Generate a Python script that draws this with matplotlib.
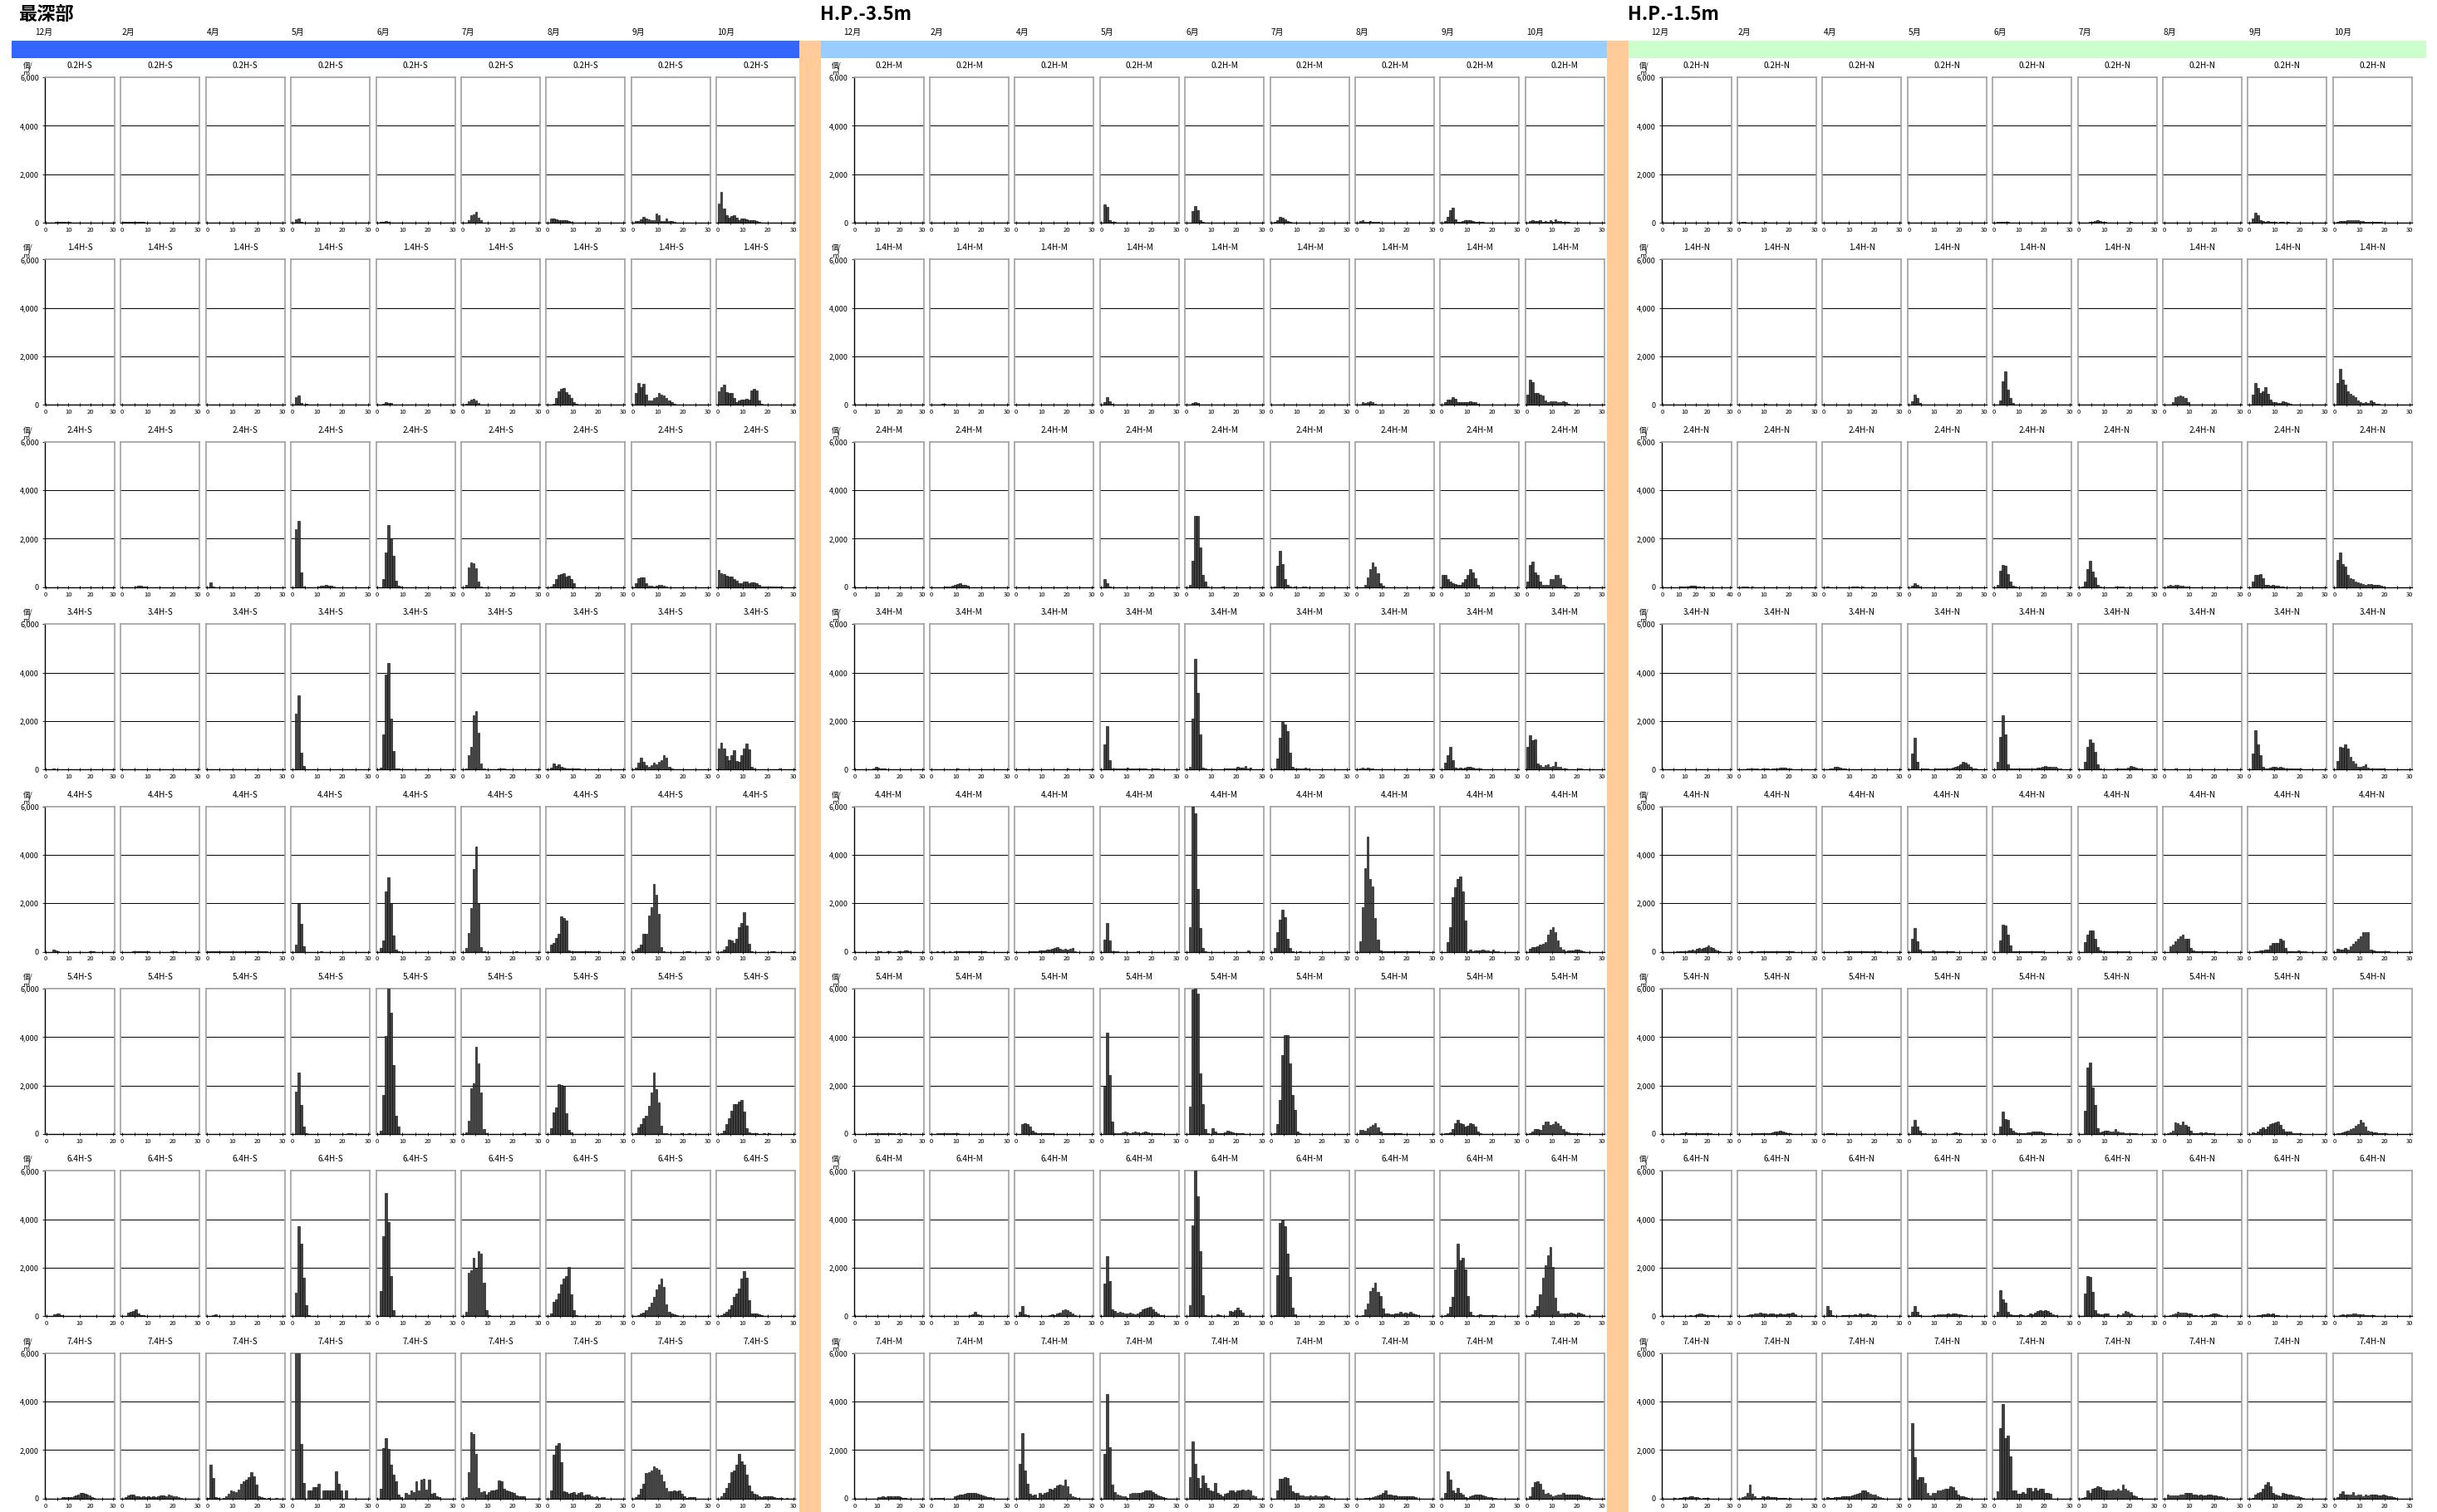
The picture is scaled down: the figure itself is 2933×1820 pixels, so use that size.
import numpy as np
import matplotlib
matplotlib.use('Agg')
import matplotlib.pyplot as plt
from matplotlib.patches import Rectangle

plt.rcParams['font.family'] = ['Noto Sans CJK JP', 'DejaVu Sans']

# values in hundreds of 個/㎡, one list per 1-size bin starting at 0
MONTHS = ['12月', '2月', '4月', '5月', '6月', '7月', '8月', '9月', '10月']
DEPTHS = ['0.2H', '1.4H', '2.4H', '3.4H', '4.4H', '5.4H', '6.4H', '7.4H']
TITLES = ['最深部', 'H.P.-3.5m', 'H.P.-1.5m']
SUFFIX = ['S', 'M', 'N']

S_02 = [
    [0, 0, 0, 0, 0.2, 0.4, 0.4, 0.3, 0.3, 0.2, 0.2],
    [0.2, 0.3, 0.3, 0.4, 0.5, 0.4, 0.2, 0.4, 0.2],
    [],
    [0, 1.5, 1.8, 0.4],
    [0, 0.3, 0.5, 0.8, 0.4],
    [0, 0, 1.0, 3.2, 3.6, 4.3, 2.0, 1.0],
    [0, 1.8, 1.8, 1.5, 1.2, 1.0, 1.0, 1.0, 0.8, 0.2],
    [0, 0.8, 0.8, 1.4, 2.5, 1.8, 1.4, 1.0, 1.2, 3.8, 3.1, 0.8, 0.8, 1.8, 0.8, 0.8, 0.3],
    [7.8, 12.6, 5.8, 3.2, 2.0, 2.8, 3.2, 2.0, 1.2, 1.8, 1.8, 1.4, 1.2, 1.0, 1.2, 0.6, 0.3],
]
S_14 = [
    [0, 0, 0, 0.2, 0.3, 0.2],
    [],
    [0, 0, 0, 0, 0, 0, 0, 0, 0, 0, 0, 0, 0, 0, 0.2, 0.2],
    [0, 3.2, 3.8, 0.8, 0.2, 0.5, 0, 0, 0, 0, 0, 0, 0, 0.3, 0, 0, 0.3],
    [0, 0.3, 0.6, 1.2, 0.8, 0.7, 0.3],
    [0, 0.5, 1.4, 2.2, 2.5, 2.0, 0.8, 0.3, 0.2],
    [0, 0, 0.5, 3.0, 5.5, 6.8, 7.0, 5.2, 4.2, 2.8, 1.2, 0.4, 0, 0, 0, 0, 0, 0, 0, 0.2],
    [0, 4.8, 9.0, 7.2, 8.6, 4.2, 1.8, 2.0, 2.8, 3.2, 4.8, 4.2, 3.8, 2.8, 2.0, 1.0, 0.4],
    [5.5, 7.2, 8.5, 5.2, 4.8, 5.0, 2.8, 1.2, 1.8, 2.2, 2.2, 2.4, 2.2, 6.0, 6.8, 5.8, 2.0, 0.5,
     0, 0, 0, 0, 0, 0, 0, 0.3],
]
S_24 = [
    [0, 0, 0, 0, 0.1, 0.1],
    [0, 0, 0, 0, 0, 0.3, 0.5, 0.5, 0.3, 0.4],
    [0, 2.0, 0.3],
    [0, 24, 27.5, 6, 0.3, 0, 0, 0, 0, 0, 0.3, 0.5, 0.5, 0.8, 0.6, 0.5, 0.3],
    [0, 0, 3.2, 14.5, 25.8, 20, 13, 2.6, 0.5, 0.2],
    [0, 1.0, 8.0, 10.2, 9.8, 7.8, 2.5, 0.4],
    [0, 0.3, 1.2, 3.5, 5.0, 5.5, 5.8, 4.5, 4.8, 3.5, 1.5],
    [0, 1.5, 3.8, 3.9, 3.9, 1.6, 0.5, 0.5, 0.4, 0.6, 0.9, 0.8, 0.6, 0.4],
    [7.0, 5.8, 5.5, 4.8, 4.5, 4.5, 3.2, 2.8, 1.8, 1.8, 2.2, 2.2, 1.8, 2.0, 2.0, 1.8, 0.8,
     0.3, 0.3, 0.3, 0.3, 0.3, 0.3, 0.3, 0.3, 0.3],
]
S_34 = [
    [0, 0, 0, 0.3, 0.2],
    [0, 0, 0, 0, 0, 0, 0, 0.2, 0.2, 0, 0.2, 0, 0, 0, 0, 0, 0, 0, 0, 0.2, 0.2],
    [0, 0, 0, 0, 0, 0, 0, 0, 0, 0, 0, 0, 0, 0.2, 0.2, 0.2, 0.2],
    [0, 23, 30.5, 6.8, 1.5, 0.2, 0, 0, 0, 0, 0.2],
    [0, 0.8, 14.5, 39, 44, 21, 7.5, 0.5, 0.3, 0, 0, 0.2, 0.2, 0, 0, 0, 0, 0, 0, 0, 0.2, 0, 0, 0.2],
    [0, 0.5, 5.8, 9.2, 22.5, 24, 15, 2.5, 0.5, 0, 0, 0, 0, 0, 0.3, 0.5, 0.3],
    [0, 0.8, 2.5, 1.5, 2.2, 1.2, 0.8, 0.5, 0.5, 0.3, 0.3, 0.3, 0.3, 0.2, 0, 0, 0.2],
    [0, 0.8, 2.8, 4.8, 3.2, 1.8, 1.2, 1.8, 2.8, 2.0, 3.2, 4.0, 5.8, 5.0, 1.2, 0.3],
    [8.5, 11.2, 8.5, 5.5, 3.8, 5.8, 7.8, 3.5, 3.2, 5.8, 8.5, 10.8, 8.2, 1.2, 0.3,
     0, 0, 0, 0, 0, 0, 0, 0, 0, 0.3],
]
S_44 = [
    [0, 0, 0, 1.0, 0.5, 0.2, 0, 0, 0, 0, 0, 0, 0, 0, 0, 0, 0, 0, 0, 0.2, 0.3, 0.2],
    [0, 0, 0, 0, 0.2, 0.2, 0.3, 0.2, 0.2, 0.2, 0.2, 0, 0, 0, 0, 0, 0, 0, 0, 0.2, 0.2, 0.2],
    [0.1, 0.2, 0.2, 0.2, 0.2, 0.2, 0.2, 0.2, 0.2, 0.3, 0.2, 0.2, 0.2, 0.2, 0.2, 0.2, 0.2,
     0.2, 0.2, 0.2, 0.3, 0.2, 0.2, 0.2],
    [0, 2.8, 20.2, 11.5, 2.4, 0, 0, 0, 0, 0, 0, 0.2],
    [0, 1.5, 4.8, 24.8, 30.8, 20, 6.8, 1.0, 0.2],
    [0, 1.5, 7.8, 18, 34, 43.5, 20, 2.0, 0.2, 0, 0, 0, 0, 0, 0, 0, 0, 0, 0, 0, 0, 0.3],
    [0, 2.8, 3.8, 5.8, 7.5, 14.5, 14.0, 13.0, 0.5, 0.3, 0.3, 0.2, 0.3, 0.3, 0.2, 0.2, 0.2,
     0.2, 0.2, 0.2, 0.2],
    [0, 0.8, 1.5, 2.8, 7.5, 7.5, 15, 18.5, 28, 23.5, 15.5, 2.0, 0.3, 0, 0, 0, 0, 0, 0, 0,
     0, 0.2, 0.2],
    [0, 0.3, 0.8, 2.2, 5, 4.8, 3.5, 5.5, 10, 12, 16.2, 11, 3.2, 0.3, 0, 0, 0, 0, 0, 0, 0,
     0.2, 0.2],
]
S_54 = [
    [0, 0, 0, 0, 0, 0.1, 0, 0, 0, 0.1],
    [0, 0, 0, 0, 0, 0, 0, 0, 0, 0, 0, 0, 0, 0, 0, 0, 0, 0, 0, 0.1],
    [0, 0, 0, 0, 0, 0, 0, 0, 0, 0, 0.1],
    [0, 17.5, 25.5, 12, 3.2, 0.5, 0, 0, 0, 0, 0, 0, 0, 0, 0, 0, 0, 0, 0, 0, 0, 0, 0.2, 0.2],
    [0, 1.5, 16, 40.5, 61, 50, 28.5, 7.5, 3.2],
    [0, 0.8, 5.5, 19, 21, 36, 29, 17, 2.0, 0.3, 0, 0, 0, 0, 0, 0, 0, 0, 0, 0, 0, 0, 0, 0, 0.2],
    [0, 2.3, 8.8, 11, 20.5, 20.2, 20, 8.5, 1.8, 0.8],
    [0, 0.5, 2.8, 4, 6.5, 7.5, 11.5, 17, 25.5, 18.5, 13, 3.3, 0.5, 0.3, 0, 0, 0, 0, 0,
     0.2, 0, 0, 0.2],
    [0, 0.5, 1.5, 4, 6.5, 9.5, 12.5, 12.5, 13.5, 14, 9.2, 2.5, 0.8, 0.3, 0.2, 0.2, 0, 0,
     0.2, 0, 0.2],
]
S_64 = [
    [0, 0.3, 0.8, 1.0, 0.6, 0.3, 0, 0, 0.2, 0, 0, 0, 0, 0, 0, 0, 0, 0, 0.2, 0.2],
    [0, 0, 1.5, 1.8, 2.2, 2.8, 1.2, 0.6, 0.4, 0.3, 0.2, 0.2, 0, 0.2, 0, 0, 0, 0, 0, 0.3,
     0.2, 0.2],
    [0, 0, 0.5, 0.8, 0.2, 0, 0, 0, 0, 0, 0.2, 0, 0, 0, 0, 0, 0, 0, 0, 0.2, 0.2, 0.2],
    [0, 9.8, 37, 29.8, 16, 4.5, 0.5, 0.3, 0, 0, 0, 0, 0, 0, 0.2],
    [0, 10.5, 33, 51, 39, 16.5, 2.5, 0, 0, 0, 0, 0, 0, 0, 0, 0, 0, 0, 0, 0.3],
    [0, 2.0, 18, 19, 24, 20, 27, 26, 14, 2.5, 0.5],
    [0, 1.2, 6, 7, 9.5, 13, 15.5, 16.5, 20.5, 9, 2.5, 0.5, 0, 0, 0.2, 0, 0, 0, 0, 0.2],
    [0, 0.3, 0.5, 1.0, 1.5, 2.5, 4, 5.5, 8, 11, 13, 15.5, 12, 5, 2, 1.2, 0.8, 0.5, 0.3],
    [0, 0.5, 1.0, 2.0, 2.8, 4.5, 8, 9.5, 11.5, 15.5, 18.5, 16, 6.5, 1.0, 1.2, 1.2, 0.8,
     0.5, 0.3],
]
S_74 = [
    [0, 0, 0, 0, 0, 0, 0, 0.5, 0.5, 0.5, 0.5, 0.6, 0.8, 1.2, 1.8, 2.2, 2.5, 2.0, 1.8, 1.2,
     0.5, 0.3],
    [0, 0.5, 1.2, 1.5, 1.8, 1.0, 0.8, 0.6, 0.8, 0.7, 0.8, 0.5, 0.8, 0.6, 0.8, 1.2, 1.3, 0.8,
     1.5, 1.3, 1.0, 0.8, 0.5, 0.3],
    [0.3, 14, 8.5, 0.5, 0.3, 0, 0.3, 0.8, 2.0, 3.5, 3.0, 2.8, 3.8, 6, 7, 7.8, 9, 10.8, 9.3,
     5.8, 1.0, 0.6, 0.3, 0, 0.2, 0, 0, 0.2],
    [0, 70, 70, 22.5, 6.5, 0, 3.2, 3.2, 4.8, 4.8, 6.2, 0, 3.2, 3.2, 3.2, 3.2, 3.2, 11.2,
     6.2, 3.2, 0, 3.2],
    [0, 4.2, 21, 25, 20.5, 14, 9.8, 7.2, 1.5, 0.5, 0, 2.2, 1.8, 3.5, 2.8, 7, 3.5, 7.8, 8.2,
     3.8, 7.8, 2.0, 2.3, 1.0, 0.5],
    [0, 0.5, 11, 27.5, 26.8, 18.5, 4.4, 2.7, 2.9, 1.6, 2.8, 3.5, 3.5, 3.8, 7.4, 7.2, 3.9,
     3.5, 3.0, 2.8, 2.2, 1.4, 0.8, 0.8, 0.8],
    [0, 3.2, 18, 22, 23, 15, 3, 2.8, 2, 2.2, 2.8, 1.5, 2.2, 2.8, 1.2, 1.8, 1.5, 0.8, 0.5,
     1.0, 0.3, 0.5, 0.5],
    [0, 0.5, 1.5, 4, 6, 10.5, 11, 11.5, 13.2, 12.5, 12, 10, 7, 4.5, 3, 3, 3.5, 3, 3.5, 2, 1,
     0.3, 0.5, 0.5, 0.5],
    [0, 1.0, 2.5, 4.5, 6.5, 11, 11.5, 14, 18.5, 15.5, 14, 10, 5.5, 3, 2, 1.5, 0.8, 0.5, 0.8,
     0.8, 1.0, 1.0, 0.5, 0.3, 0.3, 0.3, 0, 0.3],
]

M_02 = [
    [], [], [],
    [0, 7.5, 6.5, 1.2, 0.3, 0.3],
    [0, 0, 4.8, 6.8, 5.2, 1.2, 0.3],
    [0, 0.5, 1.2, 2.5, 2.2, 1.5, 0.8, 0.3],
    [0, 0.8, 1.2, 0.5, 0.3, 0.8, 0.2, 0.3, 0.2],
    [0, 0.8, 2.5, 5.0, 6.2, 1.5, 0.5, 0.5, 0.8, 1.0, 1.2, 1.0, 0.8, 0.5, 0.3, 0.3, 0.3],
    [0, 0.8, 1.0, 0.8, 0.8, 1.0, 0.5, 0.6, 0.5, 1.0, 0.5, 1.5, 0.8, 0.8, 0.3, 0.3, 0.2],
]
M_14 = [
    [],
    [0, 0, 0, 0.3, 0.6, 0.4, 0.3, 0.2],
    [0, 0, 0, 0.2],
    [0, 1.0, 3.2, 1.5, 0.5, 0, 0, 0, 0, 0, 0, 0, 0, 0.2],
    [0, 0.3, 0.8, 1.0, 0.8, 0.3],
    [0, 0, 0, 0, 0.2],
    [0, 0, 1.0, 0.8, 1.0, 1.5, 1.0, 0.5, 0.3],
    [0, 1.0, 2.2, 2.2, 3.2, 2.5, 1.2, 1.0, 1.2, 1.0, 1.2, 1.5, 1.2, 1.0, 0.5, 0.3],
    [4.2, 10.5, 9.5, 4.8, 4.8, 4.2, 3.8, 1.8, 1.2, 1.5, 1.5, 1.5, 1.2, 1.2, 1.5, 1.0, 0.5],
]
M_24 = [
    [],
    [0, 0, 0, 0, 0, 0.2, 0.3, 0.4, 0.5, 0.8, 1.2, 1.5, 1.0, 0.8, 0.5],
    [0, 0, 0.1],
    [0, 3.2, 1.5, 0.3],
    [0, 1.0, 11, 29.5, 29.5, 16.5, 5.0, 2.2, 0.3, 0, 0, 0, 0, 0, 0.3],
    [0, 0.3, 9, 15, 9.5, 3.2, 0.8, 0.2, 0, 0.3, 0, 0, 0.3, 0.3],
    [0, 0, 0, 1.0, 4.0, 7.5, 10.2, 8.5, 5.8, 1.5, 0.5],
    [5.2, 5.2, 3.5, 2.5, 1.8, 1.2, 0.8, 1.0, 2.0, 3.5, 5.2, 7.5, 6.0, 3.8, 1.0],
    [2.2, 9.2, 10.5, 6.2, 5.0, 2.5, 1.0, 0.8, 0.8, 3.2, 3.5, 5.2, 5.0, 3.8, 1.0, 0.2],
]
M_34 = [
    [0, 0, 0, 0, 0, 0, 0, 0, 0.5, 1.2, 0.8, 0.5, 0.3, 0.3],
    [0, 0, 0.2, 0.2, 0.2, 0.2, 0.2, 0.2, 0.2, 0.2, 0.3, 0.2, 0.2, 0.2, 0.2, 0.2, 0.2, 0,
     0.2, 0, 0, 0, 0, 0.2],
    [0, 0, 0, 0, 0, 0, 0, 0, 0, 0.2, 0.2, 0.2, 0.2, 0.2, 0.2, 0.2, 0.2, 0.2, 0.2, 0.2, 0.3,
     0.2, 0.2],
    [0, 10.5, 18, 4, 0.5, 0.3, 0.3, 0.5, 0.3, 0.5, 0.8, 0.5, 0.3, 0.3, 0.3, 0.3, 0.3, 0.3,
     0.2, 0.2, 0.3, 0.3, 0.3],
    [0, 1.0, 21, 45.5, 31.5, 14.5, 0.8, 0.3, 0, 0, 0, 0, 0, 0, 0, 0.3, 0.3, 0.3, 0.3, 0.5,
     1.0, 0.8, 0.8, 1.5, 0.3, 0.8],
    [0, 0.5, 4.5, 13, 19.5, 18.5, 15.8, 7.0, 1.2, 0.3, 0.3, 0.3, 0.3, 0.8, 0.3, 0.2],
    [0, 0.5, 0.8, 0.5, 0.8, 0.3, 0.5, 0.2],
    [0, 2.8, 5.8, 9.2, 4.0, 0.8, 0.5, 0.8, 0.5, 0.8, 1.0, 1.0, 0.8, 0.5, 0.5, 0.3],
    [9.2, 14, 12.2, 12.5, 2.5, 1.8, 1.2, 1.8, 2.2, 1.2, 1.5, 3.2, 1.2, 1.0, 0.5, 0.3, 0, 0,
     0, 0, 0.3, 0.3, 0.2],
]
M_44 = [
    [0, 0, 0, 0, 0, 0, 0, 0, 0, 0, 0.2, 0.2, 0, 0, 0.2, 0.2, 0, 0, 0, 0.2, 0.2, 0.3, 0.5,
     0.4, 0.2],
    [0, 0, 0.2, 0, 0.2, 0, 0, 0.2, 0, 0.2, 0.2, 0.2, 0.2, 0.2, 0.2, 0.2, 0.2, 0.2, 0.2, 0.2,
     0.2, 0.2],
    [0, 0, 0, 0, 0, 0.2, 0.2, 0.3, 0.3, 0.4, 0.5, 0.6, 0.8, 0.8, 1.2, 1.5, 1.8, 1.2, 1.0,
     1.2, 1.0, 1.2, 1.5, 0.3],
    [0, 5, 12, 4.5, 0.3, 0.2, 0.2, 0, 0, 0, 0, 0, 0, 0, 0.2],
    [0, 10.2, 60, 57, 25.8, 9.8, 1.5, 0.3, 0, 0, 0, 0, 0, 0, 0, 0, 0, 0, 0, 0, 0, 0, 0,
     0, 0.5],
    [0, 1.5, 8.2, 13.2, 17.2, 14.2, 5.2, 1.5, 0.3, 0, 0, 0.2],
    [0, 4.2, 18.5, 34.5, 47.5, 30, 26.8, 13.8, 5.0, 0.5, 0.3, 0.3, 0.2, 0.2, 0.2, 0.2, 0.2,
     0.2, 0.2, 0.2, 0.2, 0.2, 0.2, 0.2, 0.3],
    [0, 0, 4.0, 10, 22.5, 26.5, 30, 31, 25, 13, 0.3, 1.0, 0.3, 0.5, 0.5, 0.5, 0.8, 0.5,
     0.5, 0.3, 0.8, 0.3, 0.3],
    [0, 1.2, 1.8, 1.8, 2.2, 2.8, 3.2, 4.0, 7.0, 9.0, 10.2, 8, 4.5, 2.0, 1.0, 0.3, 0.5, 0.5,
     0.5, 0.8, 0.8, 0.5, 0.3],
]
M_54 = [
    [0, 0, 0, 0, 0, 0, 0.2, 0.3, 0.3, 0.3, 0.3, 0.2, 0.2, 0.2, 0.2, 0.2, 0.3, 0.2, 0, 0.2,
     0, 0.2, 0.2],
    [0, 0, 0.3, 0.3, 0.4, 0.4, 0.3, 0.3, 0.2, 0.2, 0.2],
    [0, 0, 4.2, 4.5, 4.0, 3.2, 1.5, 0.8, 0.5, 0.5, 0.3, 0.3, 0.3, 0.2, 0.3],
    [0, 19.5, 42, 24.2, 5.2, 0.3, 0.3, 0.5, 0.8, 1.0, 0.8, 0.5, 0.8, 1.0, 0.8, 0.5, 0.8,
     1.0, 0.8, 0.5, 0.5, 0.3, 0.2, 0.3],
    [0, 11.2, 59.5, 61, 58, 25.2, 12.5, 2.0, 0.3, 0, 2.5, 1.2, 0.3, 0.5, 0.5, 0.8, 1.5,
     1.2, 0.8, 0.5, 0.3, 0.5, 0.2],
    [0, 0.5, 4.0, 14.2, 32.5, 40.8, 40.8, 29, 16.2, 9.8, 1.2, 0.2],
    [0, 1.8, 1.8, 1.5, 2.5, 3.2, 3.8, 4.5, 2.8, 1.0, 0.5, 0.5, 0.3, 0.3, 0.5, 0.3, 0.3, 0.2],
    [0, 0.3, 0.5, 0.8, 2.2, 4.5, 5.8, 4.5, 4.0, 3.2, 3.5, 4.5, 4.0, 3.2, 1.0, 0.2],
    [0, 0.5, 1.0, 2.2, 2.2, 1.8, 3.8, 5.2, 5.2, 3.8, 4.2, 5.2, 4.5, 3.5, 2.2, 1.0, 0.8, 0.5,
     0.5, 0.3, 0.5, 0.3],
]
M_64 = [
    [0, 0, 0, 0, 0, 0, 0, 0.2, 0.2, 0.2, 0.2, 0.2, 0.2, 0.2, 0.3, 0.2, 0.3, 0.3, 0.2, 0.2,
     0.2, 0.2],
    [0, 0, 0, 0, 0, 0, 0, 0, 0, 0, 0, 0.2, 0.2, 0.3, 0.2, 0.5, 0.8, 1.8, 0.8, 0.5, 0.3],
    [0, 1.8, 4.2, 0.8, 0.5, 0.3, 0.3, 0.3, 0.3, 0.3, 0.2, 0.3, 0.3, 0.5, 0.8, 0.5, 1.0,
     1.5, 2.5, 2.8, 2.5, 1.8, 1.0, 0.5, 0.3],
    [0, 13.5, 24.8, 14.5, 3.0, 2.2, 1.5, 1.8, 1.5, 1.2, 1.0, 1.5, 1.2, 0.8, 1.2, 2.0, 2.8,
     3.2, 3.5, 3.8, 2.8, 2.0, 1.0, 0.5, 0.5, 0.3],
    [0, 4.5, 37.5, 60.8, 49.5, 27, 8.8, 0.5, 0, 0.3, 0.2, 0.3, 0.8, 0.5, 0.3, 0.3, 0, 2.2,
     1.8, 2.5, 3.5, 2.5, 1.5, 0.2],
    [0, 0.5, 17, 38.5, 40, 37.2, 25.8, 16.2, 3.5, 0.8, 0.3, 0.3, 0.3, 0, 0.3, 0, 0, 0.3, 0.3],
    [0, 0.3, 0.5, 2.8, 5.2, 10.5, 11.8, 13.8, 10.2, 8.2, 3.2, 1.0, 1.2, 0.8, 0.8, 1.2, 1.0,
     1.8, 1.2, 1.5, 1.2, 1.8, 1.2, 0.8, 0.5, 0.3],
    [0, 0.5, 1.0, 4.0, 8.0, 19.5, 29.8, 23.2, 24, 19.5, 8.2, 1.8, 0.5, 0.3, 0.5, 0.8, 0.5,
     0.5, 0.5, 0.5, 0.5, 0.5, 0.3],
    [0, 0.3, 0.8, 2.5, 4.2, 9.2, 15.8, 21.2, 25.2, 28.5, 20.2, 7.8, 2.2, 1.2, 1.2, 1.0, 1.0,
     1.5, 1.2, 0.8, 1.5, 1.0, 0.8],
]
M_74 = [
    [0, 0, 0, 0, 0, 0, 0, 0, 0, 0, 0.5, 0.5, 0.8, 0.5, 0.8, 0.8, 1.0, 0.8, 0.8, 0.8, 0.5,
     0.3, 0.3],
    [0, 0.3, 0.3, 0.3, 0.3, 0, 0, 0, 0, 0.8, 1.2, 1.5, 1.8, 2.0, 2.2, 2.5, 2.5, 2.2, 2.0,
     1.8, 1.2, 0.8, 0.5, 0.5, 0.3],
    [0, 14.5, 27, 11.5, 6, 2.0, 1.2, 1.5, 0.3, 2.2, 1.8, 2.2, 2.8, 4.2, 3.8, 4.5, 5.5, 5.8,
     5.5, 7.8, 5.2, 2.0, 1.0, 0.5, 0.3],
    [0, 18.5, 43, 21.2, 5.8, 2.8, 1.8, 1.2, 0.8, 0.8, 0.3, 2.0, 2.5, 2.5, 2.2, 2.5, 2.8,
     3.2, 3.2, 3.2, 2.8, 2.0, 1.2, 0.8, 0.5, 0.3],
    [0, 8.8, 23.5, 14.5, 8.5, 4.5, 9.5, 6.5, 4.5, 3.5, 3.0, 6.5, 2.2, 1.5, 1.0, 2.0, 2.5,
     3.2, 3.5, 2.8, 3.5, 3.5, 3.8, 3.5, 3.8, 3.2, 1.2, 0.8],
    [0, 0, 3.2, 8.2, 8.2, 8.8, 8.5, 5.5, 3.0, 2.5, 2.2, 1.2, 1.2, 0.8, 1.0, 1.2, 1.0, 1.2,
     1.0, 1.0, 0.8, 1.2, 1.0, 0.3],
    [0, 0, 0, 0.3, 0.3, 0.3, 0.5, 0.8, 1.2, 1.5, 2.2, 3.2, 1.8, 1.5, 1.2, 1.2, 1.0, 0.8,
     1.0, 0.8, 1.0, 0.8, 0.8, 0.5],
    [0, 2.5, 11.2, 7.8, 3.5, 2.2, 4.5, 2.2, 1.5, 0.5, 0.3, 1.0, 1.2, 1.5, 1.5, 1.5, 1.2,
     1.0, 0.5, 0.5, 0.3, 0.2],
    [0, 0.8, 4.8, 6.8, 7.2, 6.2, 3.8, 2.0, 2.5, 1.5, 1.0, 1.2, 1.5, 1.8, 2.2, 1.5, 1.8, 1.5,
     1.8, 1.8, 1.5, 1.2, 0.8, 0.5, 0.5, 0.3],
]

N_02 = [
    [0, 0, 0, 0, 0, 0.1, 0, 0, 0, 0.1],
    [0, 0.2, 0.2, 0, 0, 0, 0, 0, 0, 0, 0.2],
    [], [],
    [0, 0.3, 0.3, 0.5, 0.3, 0.3, 0, 0, 0, 0, 0, 0, 0, 0, 0, 0, 0, 0, 0, 0, 0, 0, 0, 0, 0, 0.1],
    [0, 0, 0, 0, 0.3, 0.5, 0.8, 1.0, 0.8, 0.5, 0.3, 0, 0, 0, 0, 0, 0, 0, 0, 0, 0.2],
    [],
    [0, 1.8, 4.2, 3.0, 1.0, 0.8, 0.5, 0.8, 0.5, 0.5, 0.3, 0, 0.3, 0.3, 0, 0.3],
    [0, 0.5, 0.8, 0.8, 0.8, 1.0, 1.2, 1.2, 1.0, 1.0, 0.8, 0.8, 0.5, 0.5, 0.3, 0.3, 0.3, 0.3, 0.2],
]
N_14 = [
    [0, 0, 0, 0, 0, 0, 0, 0, 0, 0, 0, 0.2, 0.3, 0.2, 0.2, 0.2, 0.2, 0, 0, 0.2],
    [0, 0, 0.2, 0, 0, 0.2, 0, 0, 0.2, 0.3, 0.4, 0.3, 0.3, 0, 0, 0.2],
    [0, 0.2, 0.2, 0, 0.2, 0, 0, 0, 0, 0, 0.2, 0.3, 0.2, 0.2],
    [0, 1.5, 4.2, 3.0, 0.8],
    [0, 0.3, 2.0, 9.8, 13.8, 6.2, 2.8, 0.8, 0, 0, 0, 0, 0, 0.2, 0.3, 0.2],
    [0, 0, 0, 0.2, 0.3, 0.2, 0.3, 0.3, 0.2],
    [0, 0, 0.3, 1.2, 3.2, 3.5, 3.8, 3.5, 2.8, 1.0, 0.3],
    [0, 4.2, 9.0, 7.0, 5.0, 5.5, 7.2, 4.5, 2.2, 1.0, 1.2, 0.8, 0.8, 1.5, 1.0, 0.8, 0.5, 0.3],
    [0, 9.2, 15, 10.5, 8.2, 5.5, 4.5, 3.8, 3.2, 1.8, 1.0, 0.8, 1.0, 0.8, 2.0, 1.2, 0.5, 0.5,
     0.3, 0.2],
]
N_24 = [
    [0, 0, 0, 0, 0, 0, 0, 0, 0, 0, 0.3, 0.3, 0.2, 0.3, 0.4, 0.3, 0.5, 0.5, 0.6, 0.5, 0.4,
     0.3, 0.2, 0, 0.2],
    [0, 0.2, 0.2, 0.2, 0, 0.2],
    [0, 0.2, 0, 0, 0, 0, 0, 0, 0, 0, 0, 0.2, 0.3, 0.2, 0, 0.2],
    [0, 0.5, 1.8, 0.8, 0.3],
    [0, 1.0, 6.8, 9.2, 8.8, 5.5, 2.5, 0.5, 0.2],
    [0, 0.3, 2.5, 7.5, 11, 6.5, 4.2, 1.0, 0.3, 0, 0, 0, 0, 0, 0.2, 0.3, 0.2, 0.2],
    [0, 0.5, 1.0, 0.5, 0.8, 0.8, 0.5, 0.5, 0.3, 0.2],
    [0, 2.5, 5.2, 5.2, 5.5, 3.8, 1.0, 0.8, 0.5, 0.8, 0.5, 0.5, 0.3, 0.2],
    [0, 11.2, 14.2, 9.5, 8.5, 5.2, 3.8, 3.2, 2.5, 2.0, 1.5, 1.2, 1.0, 1.2, 1.2, 1.0, 1.0,
     0.8, 0.5, 0.3],
]
N_34 = [
    [0, 0, 0, 0, 0, 0.2, 0, 0, 0, 0, 0, 0, 0, 0, 0, 0, 0, 0, 0.2, 0.2, 0.2, 0.2, 0.2, 0.2],
    [0, 0, 0.2, 0.3, 0.5, 0.4, 0.3, 0.3, 0.2, 0.3, 0.3, 0.3, 0.2, 0.3, 0.5, 0.5, 0.8, 0.8,
     0.8, 0.5, 0.3],
    [0, 0, 0.3, 0.5, 1.0, 1.2, 0.8, 0.5, 0.3, 0.2, 0, 0, 0, 0, 0, 0.2, 0.2, 0.2, 0.2, 0.2,
     0.2, 0.2, 0.2],
    [0, 6.5, 13, 3.2, 0, 0.3, 0.3, 0.3, 0.2, 0.2, 0.3, 0.3, 0.3, 0.3, 0.3, 0.3, 0.5, 0.8,
     1.2, 1.5, 2.0, 3.2, 2.8, 2.2, 1.2, 0.5, 0.3],
    [0, 3.0, 13.5, 22.5, 14.5, 2.0, 0.5, 0.3, 0.3, 0.3, 0.3, 0.3, 0.3, 0.5, 0.5, 0.5, 0.5,
     0.8, 0.8, 1.2, 1.5, 1.2, 1.0, 1.2, 1.2, 0.5, 0.3],
    [0, 0, 3.0, 9.2, 12.5, 11.2, 7.2, 2.2, 0.5, 0.2, 0.2, 0.2, 0.2, 0.2, 0.3, 0.3, 0.3, 0.5,
     0.5, 0.8, 1.5, 1.2, 0.8, 0.5, 0.3],
    [0, 0.2, 0.2, 0.2, 0.3, 0.2, 0, 0, 0, 0, 0, 0, 0, 0, 0, 0, 0, 0, 0, 0.2, 0, 0.2],
    [0, 6.5, 16.2, 10.2, 6.0, 1.2, 0.5, 0.5, 0.8, 1.0, 1.0, 0.8, 1.2, 0.8, 0.5, 0.5, 0.3,
     0.3, 0.3, 0.3, 0.3, 0.2],
    [0, 3.5, 9.2, 9.0, 10.2, 8.5, 5.2, 3.5, 2.5, 1.0, 1.0, 1.5, 2.2, 0.8, 0.5, 0.5, 0.3,
     0.3, 0.3, 0.3, 0.2],
]
N_44 = [
    [0, 0, 0, 0, 0, 0, 0.2, 0.3, 0.3, 0.2, 0.3, 0.4, 0.5, 0.8, 0.5, 1.2, 1.5, 1.2, 1.5, 1.8,
     2.5, 2.0, 1.5, 0.8, 0.5, 0.3],
    [0, 0, 0, 0, 0.2, 0.2, 0, 0.2, 0.2, 0.2, 0.2, 0.2, 0.2, 0.2, 0.2, 0.2, 0.2, 0.2, 0.2,
     0.3, 0.2, 0.2],
    [0, 0, 0, 0, 0, 0, 0, 0, 0.2, 0.3, 0.2, 0.2, 0.2, 0.2, 0.2, 0.2, 0.3, 0.2, 0.2, 0.2,
     0.3, 0.2, 0.2],
    [0, 5.2, 9.8, 4.2, 1.0, 0.3, 0.3, 0.2, 0.2, 0.5, 0.2, 0.2, 0.2, 0.2, 0.2, 0.2, 0.3, 0.2],
    [0, 0, 4.8, 11.2, 10.8, 7.2, 2.5, 0.3, 0.3, 0.3, 0.2, 0.2, 0.2, 0.2, 0.2, 0.2, 0.2,
     0.2, 0.2, 0.2],
    [0, 0, 4.0, 7.2, 8.8, 8.8, 5.2, 2.0, 0.5, 0.3, 0.3, 0.3, 0.2, 0.2, 0.2, 0.2, 0.2, 0.2,
     0.2, 0.2],
    [0, 0, 2.2, 3.0, 4.2, 5.2, 6.5, 7.2, 5.5, 5.2, 1.5, 0.5, 0.3, 0.2, 0.2, 0.2, 0.2, 0.2,
     0.2, 0.2, 0.2],
    [0, 0, 0.3, 0.3, 0.5, 0.5, 0.8, 1.0, 2.5, 3.5, 3.5, 3.8, 5.5, 4.8, 1.5, 0.3, 0.2, 0.3,
     0.3, 0.5, 0.3, 0.3, 0.2],
    [0, 1.2, 1.0, 0.8, 1.5, 0.8, 2.2, 3.2, 4.2, 5.2, 6.5, 8.0, 8.0, 8.0, 1.0, 0.5, 0.3,
     0.3, 0.3, 0.3, 0.3, 0.2],
]
N_54 = [
    [0, 0, 0, 0, 0, 0, 0, 0, 0.3, 0.5, 0.8, 0.5, 0.5, 0.3, 0.5, 0.3, 0.2, 0.3, 0.2, 0.2,
     0.2, 0.2],
    [0, 0, 0, 0, 0, 0.2, 0.3, 0.2, 0.3, 0.5, 0.5, 0.3, 0.5, 0.8, 1.0, 1.2, 1.5, 1.2, 0.8,
     0.5, 0.3],
    [0, 0.3, 0.2, 0.3],
    [0, 3.0, 6.0, 3.0, 1.5, 0.3, 0.2, 0, 0, 0, 0, 0, 0, 0, 0, 0, 0, 0.5, 0.8, 0.5, 0.3],
    [0, 0, 3.2, 9.2, 6.2, 5.8, 2.5, 1.5, 0.8, 0.5, 0.2, 0.3, 0.5, 0.8, 0.8, 1.0, 1.2, 1.0,
     1.0, 0.8, 0.5, 0.5, 0.3],
    [0, 0, 9.5, 27.5, 29.5, 19.2, 12.0, 2.5, 0.8, 1.0, 1.5, 1.5, 1.2, 1.2, 2.0, 1.2, 0.8,
     0.8, 0.5, 0.5, 0.5, 0.3, 0.2],
    [0, 0.3, 0.8, 1.5, 4.8, 4.5, 3.8, 5.2, 3.8, 3.0, 1.5, 0.5, 0.5, 0.5, 0.8, 0.5, 0.8,
     0.5, 0.3, 0.3],
    [0, 0.8, 0.5, 1.2, 2.0, 2.8, 2.2, 3.0, 4.2, 4.5, 4.8, 5.2, 3.8, 2.2, 1.2, 1.0, 1.0,
     0.5, 0.3, 0.3, 0.3],
    [0, 0.3, 0.5, 0.8, 1.2, 1.5, 2.2, 2.5, 3.5, 4.2, 5.8, 4.8, 3.2, 1.5, 1.2, 0.8, 0.8,
     0.5, 0.5, 0.3, 0.3],
]
N_64 = [
    [0, 0, 0, 0, 0, 0, 0.2, 0.2, 0.3, 0.3, 0.3, 0.3, 0.5, 0.3, 0.5, 0.8, 1.2, 1.0, 0.8,
     0.5, 0.5, 0.5, 0.5, 0.3, 0.3, 0.3],
    [0, 0, 0.3, 0.5, 0.8, 0.8, 1.2, 1.0, 1.5, 1.0, 1.2, 0.8, 1.0, 1.0, 0.8, 0.8, 1.2, 0.8,
     0.8, 1.2, 1.0, 1.5, 0.8, 0.3, 0.3],
    [0, 4.2, 2.5, 0.5, 0.3, 0.3, 0.3, 0.5, 0.5, 0.5, 0.5, 0.5, 0.8, 0.5, 1.0, 0.8, 0.8,
     1.0, 0.8, 0.5, 0.5, 0.3, 0.3, 0.3, 0.2],
    [0, 2.0, 4.2, 2.0, 0.5, 0.3, 0.2, 0.3, 0.3, 0.5, 0.5, 0.8, 0.8, 0.8, 0.8, 1.0, 0.8,
     1.0, 1.2, 0.8, 0.8, 0.5, 0.5, 0.3],
    [0, 2.0, 10.8, 7.0, 5.5, 2.0, 0.8, 0.5, 0.5, 0.5, 0.8, 0.5, 0.3, 0.5, 1.2, 0.8, 1.5,
     2.2, 2.5, 2.2, 2.5, 2.2, 1.5, 0.8, 0.5, 0.3],
    [0, 0.3, 9.5, 16.5, 16.2, 10.2, 2.5, 1.0, 0.8, 0.8, 1.0, 1.2, 0.3, 0.3, 0.3, 0.8, 0.5,
     1.2, 2.2, 2.0, 1.0, 0.5, 0.3],
    [0, 0.3, 0.5, 0.8, 1.2, 1.8, 1.5, 1.5, 1.5, 1.2, 1.0, 0.5, 0.5, 0.3, 0.5, 0.3, 0.5,
     0.5, 0.8, 1.0, 1.2, 0.8, 0.5, 0.3],
    [0, 0.3, 0.3, 0.5, 0.5, 0.8, 0.8, 1.0, 0.8, 1.2, 0.5, 0.5, 0.3, 0.2],
    [0, 0.3, 0.5, 0.8, 0.5, 0.8, 0.8, 1.0, 1.0, 0.8, 0.8, 0.8, 0.5, 0.5, 0.5, 0.5, 0.3,
     0.3, 0.3, 0.3, 0.3, 0.3, 0.2],
]
N_74 = [
    [0, 0, 0, 0, 0, 0.3, 0, 0.3, 0.3, 0.5, 0.5, 0.5, 0.8, 1.0, 0.5, 0.5, 0.3, 0, 0.3, 0.3, 0.2],
    [0, 0.5, 1.0, 2.5, 5.8, 2.0, 0.8, 0.3, 0.3, 0.8, 0.5, 0.8, 0.5, 0.5, 0.5, 0.3, 0.3,
     0.2, 0.2, 0, 0.2],
    [0, 0.5, 0.3, 0.3, 0.5, 0.5, 0.5, 0.8, 0.8, 0.8, 1.0, 1.2, 1.8, 2.0, 2.2, 3.5, 3.2,
     2.8, 2.0, 1.8, 1.5, 0.8, 0.5, 0.3],
    [0, 31.2, 17, 7.8, 8.8, 8.8, 6.5, 2.5, 1.2, 2.5, 2.5, 3.2, 3.2, 3.8, 4.2, 4.2, 5.0,
     4.8, 3.5, 1.8, 1.0, 1.0, 0.5, 0.3],
    [0, 3.0, 29.2, 39, 25, 26, 17.5, 3.2, 3.2, 2.0, 2.0, 2.8, 2.0, 4.5, 4.5, 3.0, 4.5, 3.5,
     4.2, 4.2, 2.2, 2.2, 2.0],
    [0, 0.3, 0.5, 3.2, 2.2, 4.0, 4.5, 5.0, 4.8, 3.8, 3.5, 3.5, 3.5, 3.8, 3.5, 4.2, 3.5,
     5.8, 4.2, 3.2, 2.8, 1.2, 0.8, 0.3, 0.3],
    [0, 1.5, 1.2, 1.2, 1.2, 1.2, 1.5, 1.8, 2.5, 2.2, 2.2, 1.8, 1.5, 1.2, 1.5, 1.2, 1.2,
     1.5, 1.5, 1.2, 1.2, 1.0, 0.8, 0.5],
    [0, 0.3, 1.5, 2.5, 2.8, 4.2, 5.8, 6.8, 5.0, 2.5, 1.5, 1.2, 1.0, 2.2, 2.0, 1.8, 1.5,
     1.2, 1.0, 0.8, 0.5, 0.3],
    [0, 0.5, 2.0, 3.0, 1.8, 1.5, 1.5, 2.8, 1.2, 1.8, 1.5, 1.0, 1.8, 1.2, 1.5, 1.5, 1.5,
     1.2, 1.2, 1.5, 1.2, 1.0, 0.8, 0.5, 0.3],
]

DATA = [
    [S_02, S_14, S_24, S_34, S_44, S_54, S_64, S_74],
    [M_02, M_14, M_24, M_34, M_44, M_54, M_64, M_74],
    [N_02, N_14, N_24, N_34, N_44, N_54, N_64, N_74],
]
# x range of the first-column charts that differ from 0-30
FIRST_XMAX = {(0, 5): 20, (0, 6): 20, (2, 2): 40}

# layout in pixels
W, H = 2933, 1820
COL2_X = [145.4, 1119, 2091]
PITCH = 102.4
PW = 95
C1_OFF, C1W = 91.5, 84.5
TOP0, RPITCH, PH = 93, 219.4, 175

fig = plt.figure(figsize=(W / 100, H / 100), dpi=100)
bg = fig.add_axes([0, 0, 1, 1], zorder=-1)
bg.set_xlim(0, W)
bg.set_ylim(H, 0)
bg.axis('off')

bands = [(14, 962, '#3366FF'), (988, 1934, '#99CCFF'), (1960, 2920, '#CCFFCC')]
for x0, x1, col in bands:
    bg.add_patch(Rectangle((x0, 49), x1 - x0, 21, color=col, lw=0))
for x0, x1 in [(962, 988), (1934, 1960)]:
    bg.add_patch(Rectangle((x0, 49), x1 - x0, H - 49, color='#FFCC99', lw=0))

title_x = [22, 987, 1959]
for g in range(3):
    bg.text(title_x[g], 18, TITLES[g], fontsize=16, fontweight='bold',
            ha='left', va='center')
    for c in range(9):
        if c == 0:
            mx = COL2_X[g] - C1_OFF - 12
        else:
            mx = COL2_X[g] + (c - 1) * PITCH + 1
        bg.text(mx, 39, MONTHS[c], fontsize=7.2, ha='left', va='center')

for g in range(3):
    for r in range(8):
        top = TOP0 + r * RPITCH
        label = f'{DEPTHS[r]}-{SUFFIX[g]}'
        c1_left = COL2_X[g] - C1_OFF
        bg.text(c1_left - 20.5, top - 14, '個/', fontsize=6, ha='center', va='center')
        bg.text(c1_left - 21.5, top - 5, '㎡', fontsize=6, ha='center', va='center')
        for c in range(9):
            if c == 0:
                left, w = c1_left, C1W
                xmax = FIRST_XMAX.get((g, r), 30)
            else:
                left, w = COL2_X[g] + (c - 1) * PITCH, PW
                xmax = 30
            ax = fig.add_axes([left / W, 1 - (top + PH) / H, w / W, PH / H])
            vals = np.array(DATA[g][r][c], dtype=float) * 100
            if len(vals):
                ax.bar(np.arange(len(vals)), vals, width=0.9, align='edge',
                       color='#404040', edgecolor='black', linewidth=0.4, zorder=3)
            ax.set_xlim(-0.5, xmax * 1.027)
            ax.set_ylim(0, 6000)
            for yv in (2000, 4000):
                ax.axhline(yv, color='black', lw=0.7, zorder=1)
            for side in ('top', 'right', 'left'):
                ax.spines[side].set_color('#A0A0A0')
                ax.spines[side].set_linewidth(1.2)
            ax.spines['bottom'].set_color('black')
            ax.spines['bottom'].set_linewidth(1.0)
            ticks = list(range(0, xmax + 1, 5))
            ax.set_xticks(ticks)
            ax.set_xticklabels([str(t) if t % 10 == 0 else '' for t in ticks])
            ax.tick_params(axis='x', direction='inout', length=3, width=0.6,
                           labelsize=5.5, pad=2)
            if c == 0:
                ax.spines['left'].set_color('black')
                ax.spines['left'].set_linewidth(1.0)
                ax.set_yticks([0, 2000, 4000, 6000])
                ax.set_yticklabels(['0', '2,000', '4,000', '6,000'])
                ax.tick_params(axis='y', direction='out', length=2, width=0.6,
                               labelsize=6.5, pad=3)
            else:
                ax.set_yticks([])
            ax.text(0.5, 1 + 14 / PH, label, transform=ax.transAxes,
                    ha='center', va='center', fontsize=7.2)

fig.savefig('out.png', dpi=100)
